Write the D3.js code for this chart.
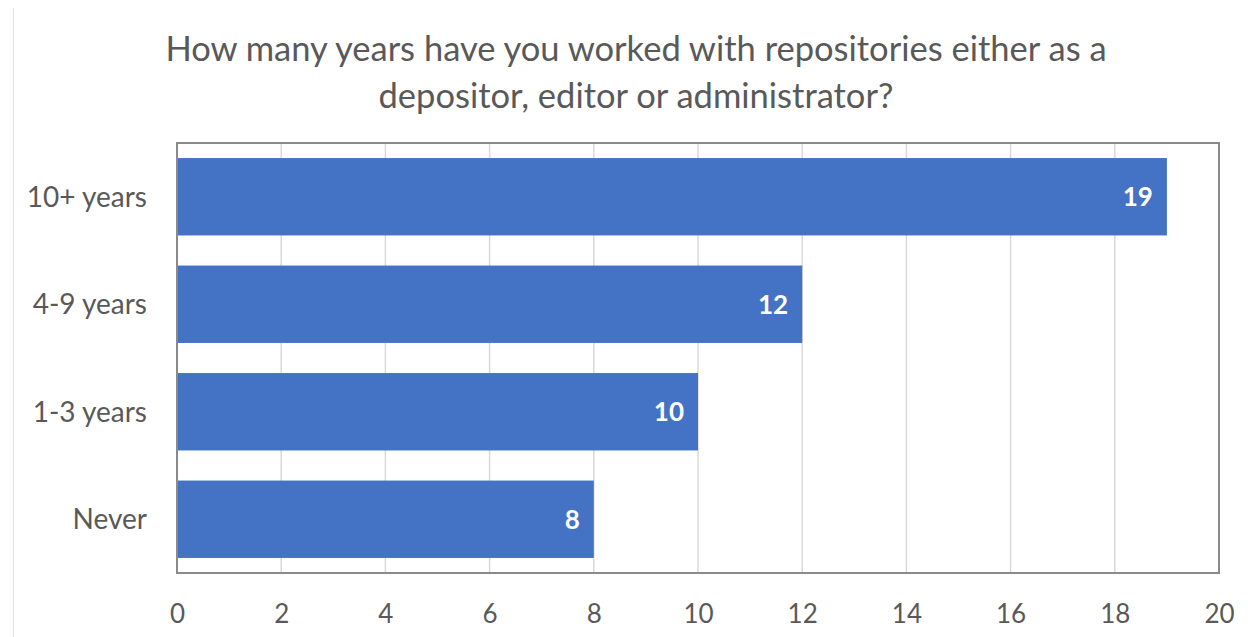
<!DOCTYPE html>
<html>
<head>
<meta charset="utf-8">
<script src="https://cdn.jsdelivr.net/npm/d3@7"></script>
<style>
  html, body { margin: 0; padding: 0; background: #fff; }
  svg { display: block; }
</style>
</head>
<body>
<svg id="chart" width="1248" height="637"></svg>
<script>
// Survey responses: years spent working with repositories
const categories = ["10+ years", "4-9 years", "1-3 years", "Never"];
const counts = [19, 12, 10, 8];
const xTicks = [0, 2, 4, 6, 8, 10, 12, 14, 16, 18, 20];
const titleLines = [
  "How many years have you worked with repositories either as a",
  "depositor, editor or administrator?"
];

const W = 1248, H = 637;
const margin = { top: 143, right: 29, bottom: 64, left: 177 };
const FONT = "Lato, 'Open Sans', sans-serif";
const TEXT = "#595959";

const svg = d3.select("#chart");

// thin frame line along the left edge
svg.append("line")
  .attr("x1", 13.5).attr("x2", 13.5)
  .attr("y1", 8).attr("y2", H)
  .attr("stroke", "#e3e3e3").attr("stroke-width", 1);

const x = d3.scaleLinear()
  .domain([0, 20])
  .range([margin.left, W - margin.right]);

const y = d3.scaleBand()
  .domain(categories)
  .range([margin.top, H - margin.bottom])
  .paddingInner(0.28)
  .paddingOuter(0.14);

// title
svg.append("text")
  .attr("x", 636)
  .attr("text-anchor", "middle")
  .attr("font-family", FONT)
  .attr("font-size", 34.5)
  .attr("fill", TEXT)
  .selectAll("tspan")
  .data(titleLines)
  .join("tspan")
  .attr("x", 636)
  .attr("y", (d, i) => 61 + i * 47)
  .text(d => d);

// vertical gridlines
svg.append("g")
  .selectAll("line")
  .data(xTicks.slice(1, -1))
  .join("line")
  .attr("x1", d => x(d)).attr("x2", d => x(d))
  .attr("y1", margin.top).attr("y2", H - margin.bottom)
  .attr("stroke", "#d9d9d9").attr("stroke-width", 1.5);

// bars
svg.append("g")
  .selectAll("rect")
  .data(categories)
  .join("rect")
  .attr("x", x(0))
  .attr("y", d => y(d))
  .attr("width", (d, i) => x(counts[i]) - x(0))
  .attr("height", y.bandwidth())
  .attr("fill", "#4472C4");

// value labels inside bar ends
svg.append("g")
  .selectAll("text")
  .data(categories)
  .join("text")
  .attr("x", (d, i) => x(counts[i]) - 14)
  .attr("y", d => y(d) + y.bandwidth() / 2)
  .attr("dy", "0.36em")
  .attr("text-anchor", "end")
  .attr("font-family", FONT)
  .attr("font-weight", "bold")
  .attr("font-size", 26)
  .attr("fill", "#ffffff")
  .text((d, i) => counts[i]);

// plot frame
svg.append("rect")
  .attr("x", margin.left)
  .attr("y", margin.top)
  .attr("width", x(20) - x(0))
  .attr("height", H - margin.bottom - margin.top)
  .attr("fill", "none")
  .attr("stroke", "#8a8a8a")
  .attr("stroke-width", 2);

// x axis labels
const xAxis = d3.axisBottom(x).tickValues(xTicks).tickSize(0).tickPadding(0);
const gx = svg.append("g")
  .attr("transform", `translate(0, ${H - margin.bottom})`)
  .call(xAxis);
gx.select(".domain").remove();
gx.selectAll("text")
  .attr("y", 50)
  .attr("dy", 0)
  .attr("font-family", FONT)
  .attr("font-size", 26)
  .attr("fill", TEXT);

// y axis labels
const yAxis = d3.axisLeft(y).tickSize(0).tickPadding(0);
const gy = svg.append("g")
  .attr("transform", `translate(${margin.left - 30}, 0)`)
  .call(yAxis);
gy.select(".domain").remove();
gy.selectAll("text")
  .attr("dy", "0.36em")
  .attr("font-family", FONT)
  .attr("font-size", 28)
  .attr("fill", TEXT);
</script>
</body>
</html>
